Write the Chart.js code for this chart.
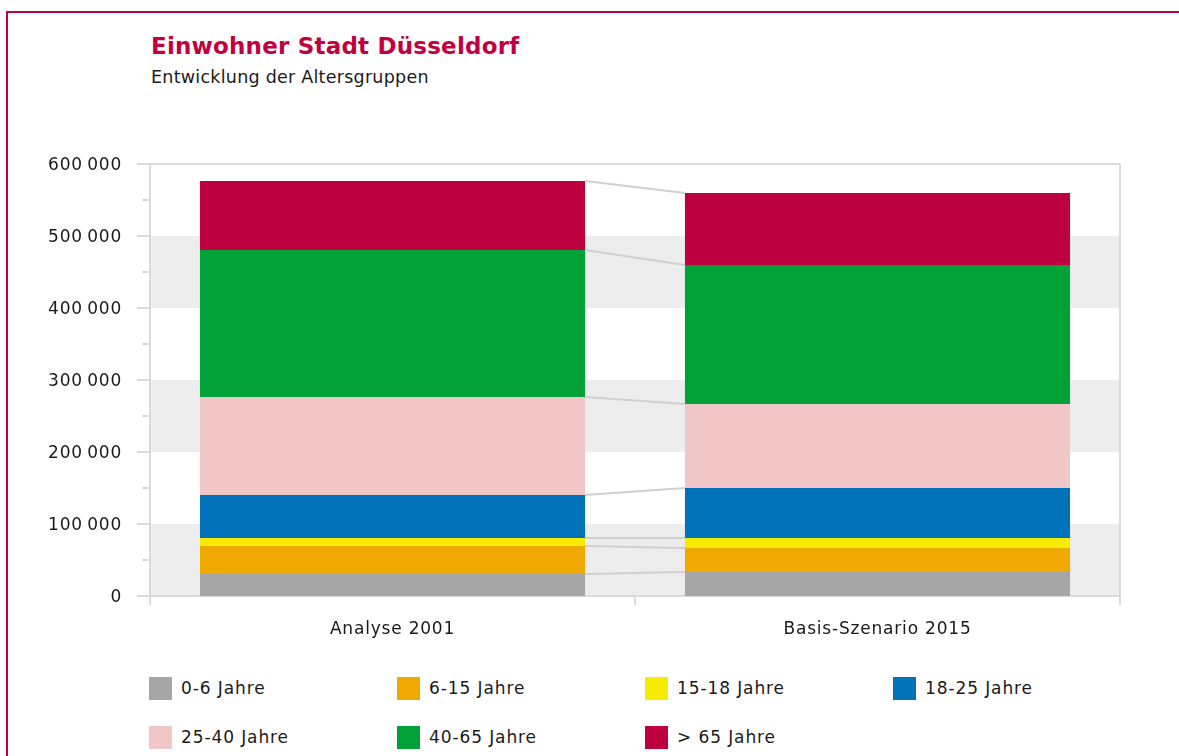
<!DOCTYPE html>
<html lang="de">
<head>
<meta charset="utf-8">
<title>Einwohner Stadt Düsseldorf</title>
<script src="https://cdn.jsdelivr.net/npm/chart.js@4.4.1/dist/chart.umd.min.js"></script>
<style>
  html, body { margin: 0; padding: 0; background: #fff; }
  body { width: 1179px; height: 756px; position: relative; overflow: hidden; font-family: "DejaVu Sans", sans-serif; color: #1a1a1a; }
  #frame { position: absolute; left: 6px; top: 11px; width: 1200px; height: 800px; border-left: 2px solid #c0003f; border-top: 2px solid #c0003f; }
  #title { position: absolute; left: 151px; top: 35px; font-size: 23px; line-height: 23px; font-weight: bold; color: #c0003f; white-space: nowrap; letter-spacing: 0.2px; }
  #subtitle { position: absolute; left: 151px; top: 69px; font-size: 17.5px; line-height: 17.5px; white-space: nowrap; letter-spacing: 0.25px; }
  #chartBox { position: absolute; left: 0; top: 140px; width: 1179px; height: 520px; }
  #legend { position: absolute; left: 149px; top: 677px; display: grid; grid-template-columns: repeat(4, 248px); row-gap: 26px; }
  .item { display: flex; align-items: center; height: 23px; font-size: 17px; line-height: 17px; letter-spacing: 0.9px; white-space: nowrap; }
  .swatch { width: 23px; height: 23px; margin-right: 9px; flex: none; }
</style>
</head>
<body>
<div id="frame"></div>
<div id="title">Einwohner Stadt Düsseldorf</div>
<div id="subtitle">Entwicklung der Altersgruppen</div>
<div id="chartBox"><canvas id="chart" width="1179" height="520"></canvas></div>
<div id="legend"></div>
<script>
// Daten
const categories = ['Analyse 2001', 'Basis-Szenario 2015'];
const ageGroups = ['0-6 Jahre', '6-15 Jahre', '15-18 Jahre', '18-25 Jahre', '25-40 Jahre', '40-65 Jahre', '> 65 Jahre'];
const groupColors = ['#a6a6a6', '#f0a900', '#f7ec00', '#0072b9', '#f0c6c7', '#00a136', '#bd003f'];

const jahre0bis6 = [30600, 33300];
const jahre6bis15 = [38800, 33400];
const jahre15bis18 = [11200, 13900];
const jahre18bis25 = [59700, 69400];
const jahre25bis40 = [136100, 116700];
const jahre40bis65 = [204200, 193000];
const ueber65 = [95800, 100000];

const yMax = 600000;
const yStep = 100000;
const bandRanges = [[0, 100000], [200000, 300000], [400000, 500000]];

const seriesValues = [jahre0bis6, jahre6bis15, jahre15bis18, jahre18bis25, jahre25bis40, jahre40bis65, ueber65];

function formatNumber(v) {
  return String(v).replace(/\B(?=(\d{3})+(?!\d))/g, '\u2009');
}

const lineColor = '#dadada';

const framePlugin = {
  id: 'framePlugin',
  beforeDraw(chart) {
    chart.ctx.letterSpacing = '0.8px';
  },
  beforeDatasetsDraw(chart) {
    const { ctx, chartArea: a, scales: { x, y } } = chart;
    ctx.save();
    ctx.letterSpacing = '0px';
    // graue Bänder
    ctx.fillStyle = '#ededed';
    bandRanges.forEach(([lo, hi]) => {
      const top = y.getPixelForValue(hi);
      const bottom = y.getPixelForValue(lo);
      ctx.fillRect(a.left, top, a.right - a.left, bottom - top);
    });
    ctx.strokeStyle = lineColor;
    ctx.lineWidth = 2;
    const y0 = y.getPixelForValue(0);
    const yTop = y.getPixelForValue(yMax);
    ctx.beginPath();
    // obere und untere Linie
    ctx.moveTo(a.left - 13, yTop); ctx.lineTo(a.right, yTop);
    ctx.moveTo(a.left - 13, y0); ctx.lineTo(a.right, y0);
    // linke und rechte Achse
    ctx.moveTo(a.left, yTop); ctx.lineTo(a.left, y0 + 9);
    ctx.moveTo(a.right, yTop); ctx.lineTo(a.right, y0 + 9);
    // Kategorie-Grenze
    const mid = (x.getPixelForValue(0) + x.getPixelForValue(1)) / 2;
    ctx.moveTo(mid, y0); ctx.lineTo(mid, y0 + 9);
    // Teilstriche
    for (let v = yStep; v < yMax; v += yStep) {
      const py = y.getPixelForValue(v);
      ctx.moveTo(a.left - 13, py); ctx.lineTo(a.left, py);
    }
    for (let v = yStep / 2; v < yMax; v += yStep) {
      const py = y.getPixelForValue(v);
      ctx.moveTo(a.left - 8, py); ctx.lineTo(a.left, py);
    }
    ctx.stroke();
    ctx.restore();
  },
  afterDatasetsDraw(chart) {
    const { ctx } = chart;
    ctx.save();
    ctx.strokeStyle = '#d0d0d0';
    ctx.lineWidth = 2;
    ctx.beginPath();
    chart.data.datasets.forEach((ds, i) => {
      const els = chart.getDatasetMeta(i).data;
      const a = els[0], b = els[1];
      ctx.moveTo(a.x + a.width / 2, a.y);
      ctx.lineTo(b.x - b.width / 2, b.y);
    });
    ctx.stroke();
    ctx.restore();
  }
};

const chart = new Chart(document.getElementById('chart'), {
  type: 'bar',
  data: {
    labels: categories,
    datasets: ageGroups.map((name, i) => ({
      label: name,
      data: seriesValues[i],
      backgroundColor: groupColors[i],
      borderWidth: 0,
      barPercentage: 0.794,
      categoryPercentage: 1
    }))
  },
  options: {
    responsive: false,
    animation: false,
    devicePixelRatio: 1,
    layout: { padding: { top: 24, right: 59, left: 0, bottom: 0 } },
    plugins: {
      legend: { display: false },
      tooltip: { enabled: false }
    },
    scales: {
      x: {
        stacked: true,
        grid: { display: false, drawTicks: false, tickLength: 0 },
        border: { display: false },
        ticks: { color: '#1a1a1a', padding: 23, font: { family: 'DejaVu Sans', size: 17 } },
        afterFit(scale) { scale.height = 64; }
      },
      y: {
        stacked: true,
        min: 0,
        max: yMax,
        grid: { display: false, drawTicks: false, tickLength: 0 },
        border: { display: false },
        ticks: {
          stepSize: yStep,
          color: '#1a1a1a',
          padding: 28,
          labelOffset: 2,
          font: { family: 'DejaVu Sans', size: 17 },
          callback: v => formatNumber(v)
        },
        afterFit(scale) {
          scale.width = 150;
          scale.paddingTop = 0;
          scale.paddingBottom = 0;
        }
      }
    }
  },
  plugins: [framePlugin]
});

// Legende aus den Datensätzen
const legend = document.getElementById('legend');
chart.data.datasets.forEach(ds => {
  const item = document.createElement('div');
  item.className = 'item';
  item.innerHTML = `<span class="swatch" style="background:${ds.backgroundColor}"></span><span>${ds.label.replace('>', '&gt;')}</span>`;
  legend.appendChild(item);
});
</script>
</body>
</html>
